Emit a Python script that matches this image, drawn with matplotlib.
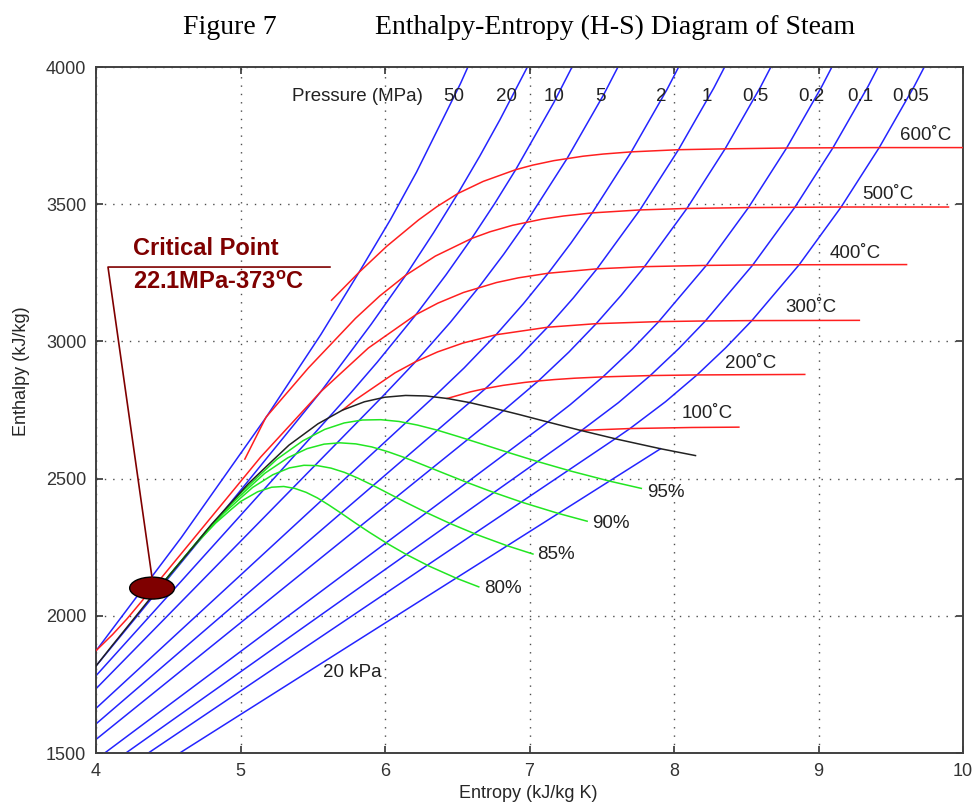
import matplotlib
matplotlib.use("Agg")
import matplotlib.pyplot as plt
from matplotlib.patches import Ellipse

# ── isobars: (entropy kJ/kg K, enthalpy kJ/kg) ──
isobar_50MPa = [(3.60, 1600), (4.0029, 1874.4), (4.5896, 2284.7), (5.1762, 2722.5),
                (5.5563, 3025.2), (5.8200, 3251.6), (6.0373, 3443.5), (6.2179, 3616.7),
                (6.5225, 3939.8), (6.7844, 4247.8)]
isobar_20MPa = [(3.64, 1586.5), (4.0156, 1827.2), (4.9310, 2412.1), (5.5558, 2816.9),
                (5.9033, 3061.7), (6.1437, 3241.2), (6.3363, 3396.2), (6.5043, 3539.0),
                (6.6560, 3675.4), (6.7953, 3807.8), (7.0544, 4069.8)]
isobar_10MPa = [(3.3606, 1408.1), (5.6160, 2725.5), (5.7596, 2810.3), (5.9459, 2924.0),
                (6.2141, 3097.5), (6.4219, 3242.4), (6.5995, 3375.1), (6.7585, 3502.0),
                (6.9045, 3625.8), (7.1679, 3870.0), (7.4058, 4114.5)]
isobar_5MPa = [(2.9207, 1154.5), (5.9737, 2794.2), (6.2111, 2925.7), (6.4516, 3069.3),
               (6.6483, 3196.7), (6.8210, 3317.2), (6.9781, 3434.7), (7.2605, 3666.9),
               (7.5136, 3899.5), (7.7458, 4136.2)]
isobar_2MPa = [(2.4467, 908.5), (6.3390, 2798.3), (6.5475, 2903.3), (6.7684, 3024.2),
               (6.9583, 3137.7), (7.1292, 3248.4), (7.2866, 3358.2), (7.4337, 3468.3),
               (7.7043, 3690.7), (7.9509, 3917.5), (8.1791, 4149.2)]
isobar_1MPa = [(2.1381, 762.5), (6.5850, 2777.1), (6.6956, 2828.3), (6.9265, 2943.1),
               (7.1246, 3051.6), (7.3029, 3158.2), (7.4670, 3264.5), (7.7642, 3479.1),
               (8.0311, 3698.6), (8.2755, 3923.5), (8.5024, 4154.1)]
isobar_05MPa = [(1.8604, 640.1), (6.8207, 2748.1), (7.0610, 2855.8), (7.2725, 2961.0),
                (7.4614, 3064.6), (7.6346, 3168.1), (7.7956, 3272.4), (8.0893, 3484.5),
                (8.3544, 3702.5), (8.5978, 3926.4), (8.8240, 4156.2)]
isobar_02MPa = [(1.5302, 504.7), (7.1270, 2706.3), (7.2810, 2769.1), (7.5081, 2870.7),
                (7.7100, 2971.2), (7.8941, 3072.1), (8.2236, 3277.0), (8.5153, 3487.7),
                (8.7793, 3704.8), (9.0221, 3928.2), (9.2479, 4157.7)]
isobar_01MPa = [(1.3028, 417.5), (7.3589, 2675.0), (7.6148, 2776.6), (7.8356, 2875.5),
                (8.0346, 2974.5), (8.2172, 3074.5), (8.5452, 3278.6), (8.8362, 3488.7),
                (9.0999, 3705.6), (9.3424, 3928.8), (9.5682, 4158.0)]
isobar_005MPa = [(1.0912, 340.5), (7.5931, 2645.2), (7.6953, 2682.4), (7.9413, 2780.2),
                 (8.1592, 2877.8), (8.3568, 2976.2), (8.5387, 3075.8), (8.8659, 3279.3),
                 (9.1566, 3489.7), (9.4201, 3706.3), (9.6626, 3929.9), (9.8883, 4159.2)]
isobar_002MPa = [(0.8320, 251.4), (7.9073, 2608.9)]

# ── isotherms (red), from 60 MPa down to 10 kPa ──
isotherm_600 = [(5.63, 3150), (5.8200, 3251.6), (6.0114, 3346.4), (6.2331, 3443.0),
                (6.3602, 3491.4), (6.5043, 3539.0), (6.6796, 3583.1), (6.9045, 3625.8),
                (7.0221, 3642.4), (7.1693, 3658.8), (7.3706, 3674.9), (7.5103, 3682.8),
                (7.7043, 3690.7), (8.0311, 3698.6), (8.3544, 3701.7), (8.7793, 3704.8),
                (9.0999, 3705.6), (9.4201, 3706.3), (10.1631, 3706.3)]
isotherm_500 = [(5.03, 2571.0), (5.1762, 2723.5), (5.4700, 2903.3), (5.7956, 3083.9),
                (5.9642, 3165.9), (6.1437, 3241.2), (6.3480, 3310.8), (6.5995, 3375.1),
                (6.7266, 3399.5), (6.8826, 3423.1), (7.0922, 3446.0), (7.2356, 3457.0),
                (7.4337, 3468.3), (7.7642, 3479.1), (8.0893, 3484.5), (8.5153, 3487.7),
                (8.8362, 3488.7), (9.1566, 3489.7), (9.8998, 3489.7)]
isotherm_400 = [(3.9317, 1843.2), (4.0029, 1874.4), (4.1141, 1931.4), (4.2140, 1988.6),
                (4.4742, 2152.4), (5.1399, 2578.7), (5.5558, 2816.9), (5.8843, 2975.7),
                (6.2141, 3097.5), (6.3658, 3139.4), (6.5432, 3178.3), (6.7714, 3214.5),
                (6.9235, 3231.7), (7.1292, 3248.4), (7.4670, 3264.5), (7.7956, 3272.4),
                (8.2236, 3277.0), (8.5452, 3278.6), (8.8659, 3279.3), (9.6094, 3280.0)]
isotherm_300 = [(5.7059, 2749.6), (5.7942, 2786.5), (6.0696, 2885.5), (6.2111, 2925.7),
                (6.3639, 2961.7), (6.5412, 2994.3), (6.7684, 3024.2), (7.1246, 3051.6),
                (7.4614, 3064.6), (7.8941, 3072.1), (8.2172, 3074.5), (8.5387, 3075.8),
                (9.2827, 3076.7)]
isotherm_200 = [(6.4302, 2792.0), (6.5909, 2816.1), (6.6956, 2828.3), (6.8177, 2839.8),
                (6.9683, 2850.6), (7.0610, 2855.8), (7.1723, 2860.9), (7.3132, 2865.9),
                (7.5081, 2870.7), (7.8356, 2875.5), (8.1592, 2877.8), (8.9049, 2879.6)]
isotherm_100 = [(7.3542, 2675.6), (7.3611, 2675.8), (7.6953, 2682.4), (8.1262, 2686.3),
                (8.4489, 2687.5)]

# ── saturation dome (black) ──
sat_curve = [(3.7800, 1671.9), (3.9167, 1761.5), (4.1112, 1891.2), (4.2200, 1962.0),
             (4.4070, 2084.3), (4.6800, 2256.0), (4.8012, 2334.5), (5.0536, 2481.0),
             (5.2177, 2563.6), (5.3356, 2622.0), (5.5362, 2699.7), (5.7059, 2749.6),
             (5.8571, 2779.9), (5.9989, 2796.6), (6.1423, 2803.0), (6.2854, 2801.1),
             (6.4302, 2792.0), (6.5841, 2777.2), (6.7491, 2757.0), (6.9284, 2733.5),
             (7.1292, 2705.9), (7.3542, 2675.6), (7.6111, 2643.0), (7.9072, 2608.8),
             (8.1488, 2583.9)]

# ── constant quality lines (green) ──
quality_80 = [(4.4070, 2084.3), (4.6632, 2245.8), (4.8262, 2337.1), (4.9302, 2385.3),
              (5.0005, 2416.5), (5.1188, 2452.0), (5.2157, 2468.6), (5.2993, 2471.3),
              (5.3761, 2464.2), (5.4542, 2449.9), (5.5319, 2429.6), (5.6103, 2404.1),
              (5.6951, 2374.4), (5.7878, 2340.7), (5.8906, 2304.7), (6.0089, 2265.5),
              (6.1448, 2224.3), (6.3040, 2181.4), (6.4920, 2137.3), (6.6489, 2105.5)]
quality_85 = [(4.4070, 2084.3), (4.6977, 2268.0), (4.8831, 2373.1), (5.0020, 2429.8),
              (5.0843, 2467.9), (5.2232, 2513.9), (5.3382, 2538.9), (5.4388, 2548.5),
              (5.5318, 2547.3), (5.6263, 2538.2), (5.7203, 2522.5), (5.8152, 2501.0),
              (5.9174, 2475.1), (6.0281, 2444.8), (6.1500, 2411.9), (6.2890, 2375.6),
              (6.4472, 2337.2), (6.6308, 2296.8), (6.8458, 2255.2), (7.0239, 2225.1)]
quality_90 = [(4.4070, 2084.3), (4.7322, 2290.2), (4.9399, 2409.1), (5.0739, 2474.4),
              (5.1681, 2519.3), (5.3275, 2575.9), (5.4608, 2609.1), (5.5782, 2625.6),
              (5.6875, 2630.4), (5.7983, 2626.5), (5.9086, 2615.4), (6.0202, 2598.0),
              (6.1396, 2575.8), (6.2685, 2548.9), (6.4095, 2519.1), (6.5691, 2485.7),
              (6.7495, 2450.0), (6.9576, 2412.2), (7.1996, 2373.1), (7.3988, 2344.7)]
quality_95 = [(4.4070, 2084.3), (4.7667, 2312.3), (4.9968, 2445.0), (5.1458, 2519.0),
              (5.2518, 2570.6), (5.4319, 2637.8), (5.5833, 2679.4), (5.7177, 2702.8),
              (5.8432, 2713.5), (5.9703, 2714.7), (6.0970, 2708.2), (6.2252, 2695.0),
              (6.3619, 2676.5), (6.5088, 2653.0), (6.6689, 2626.3), (6.8491, 2595.8),
              (7.0519, 2562.8), (7.2843, 2527.6), (7.5534, 2490.9), (7.7738, 2464.3)]

pressure_labels = ["50", "20", "10", "5", "2", "1", "0.5", "0.2", "0.1", "0.05"]
temp_labels = ["600˚C", "500˚C", "400˚C", "300˚C", "200˚C", "100˚C"]
quality_labels = ["95%", "90%", "85%", "80%"]

isobars = [isobar_50MPa, isobar_20MPa, isobar_10MPa, isobar_5MPa, isobar_2MPa,
           isobar_1MPa, isobar_05MPa, isobar_02MPa, isobar_01MPa, isobar_005MPa,
           isobar_002MPa]
isotherms = [isotherm_600, isotherm_500, isotherm_400, isotherm_300, isotherm_200,
             isotherm_100]
qualities = [quality_80, quality_85, quality_90, quality_95]

plt.rcParams['font.family'] = ['Liberation Sans', 'DejaVu Sans']
plt.rcParams['mathtext.default'] = 'regular'

W, H = 976, 805
fig = plt.figure(figsize=(W / 100, H / 100), dpi=100)
ax = fig.add_axes([96 / W, 1 - 753 / H, (963 - 96) / W, (753 - 67) / H])

for pts in isobars:
    s, h = zip(*pts)
    ax.plot(s, h, color="#2424ff", lw=1.1, zorder=2)
for pts in isotherms:
    s, h = zip(*pts)
    ax.plot(s, h, color="#ff1f1f", lw=1.1, zorder=3)
for pts in qualities:
    s, h = zip(*pts)
    ax.plot(s, h, color="#22e622", lw=1.1, zorder=3)
s, h = zip(*sat_curve)
ax.plot(s, h, color="#222222", lw=1.1, zorder=4)

ax.set_xlim(4, 10)
ax.set_ylim(1500, 4000)
ax.set_xticks(range(4, 11))
ax.set_yticks(range(1500, 4001, 500))
ax.grid(True, color="0.3", linestyle=(0, (1, 5)), lw=1.0)
ax.tick_params(direction="in", top=True, right=True, length=5, width=1.2,
               labelsize=13, colors="0.2", pad=7)
for sp in ax.spines.values():
    sp.set_color("0.25")
    sp.set_linewidth(1.4)

# labels along the curves
txt = dict(fontsize=13.5, color="#222222", zorder=6)
ax.text(5.356, 3894, "Pressure (MPa)", ha="left", va="center", **txt)
for lab, s0 in zip(pressure_labels,
                   [6.478, 6.844, 7.170, 7.488, 7.910, 8.228, 8.561, 8.948, 9.287, 9.640]):
    ax.text(s0, 3894, lab, ha="center", va="center", **txt)
for lab, (s0, h0) in zip(temp_labels, [(9.564, 3752), (9.301, 3537), (9.080, 3319),
                                        (8.768, 3122), (8.353, 2918), (8.055, 2739)]):
    ax.text(s0, h0, lab, ha="left", va="center", **txt)
for lab, (s0, h0) in zip(quality_labels, [(7.813, 2448), (7.433, 2338),
                                           (7.052, 2225), (6.685, 2101)]):
    ax.text(s0, h0, lab, ha="left", va="center", **txt)
ax.text(5.571, 1792, "20 kPa", ha="left", va="center", **txt)

# critical point callout
dark = "#7f0000"
ax.add_patch(Ellipse((4.388, 2101), 0.31, 80, facecolor=dark, edgecolor="black",
                     lw=1.0, zorder=7))
ax.plot([5.619, 4.083, 4.388], [3271, 3271, 2138], color=dark, lw=1.2, zorder=7)
cp = dict(color=dark, fontsize=17, fontweight="bold", ha="left", va="center",
          family=["Liberation Sans Narrow", "Liberation Sans"], zorder=7)
ax.text(4.256, 3340, "Critical Point", **cp)
ax.text(4.256, 3214, "22.1MPa-373$^{o}$C", **cp)

fig.text(22 / W, 1 - 371 / H, "Enthalpy (kJ/kg)", rotation=90, ha="center",
         va="center", fontsize=13, color="0.15")
fig.text(528 / W, 1 - 793 / H, "Entropy (kJ/kg K)", ha="center", va="center",
         fontsize=13, color="0.15")

fig.text(183 / W, 1 - 27 / H, "Figure 7", ha="left", va="center", fontsize=20,
         family=["Liberation Serif", "DejaVu Serif"])
fig.text(375 / W, 1 - 27 / H, "Enthalpy-Entropy (H-S) Diagram of Steam", ha="left",
         va="center", fontsize=20, family=["Liberation Serif", "DejaVu Serif"])

fig.savefig("out.png", dpi=100)
